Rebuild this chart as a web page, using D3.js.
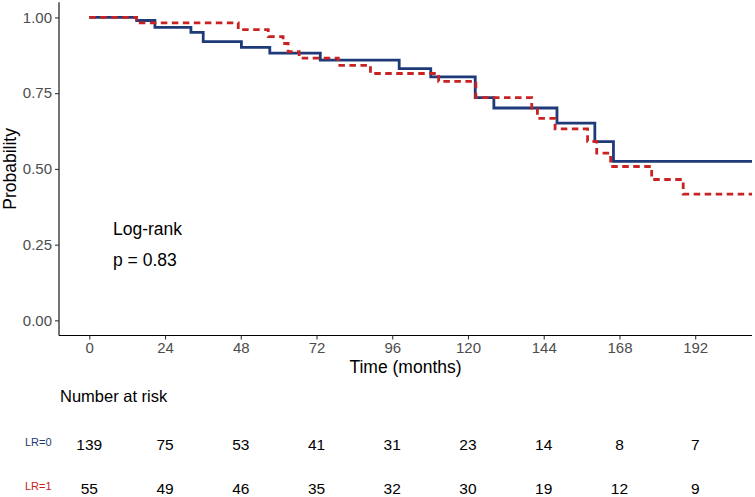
<!DOCTYPE html>
<html>
<head>
<meta charset="utf-8">
<script src="https://cdn.jsdelivr.net/npm/d3@7"></script>
<style>
  html, body { margin: 0; padding: 0; background: #fff; }
  svg { display: block; font-family: "Liberation Sans", Arial, Helvetica, sans-serif; }
</style>
</head>
<body>
<svg id="chart" width="755" height="497"></svg>
<script>
// ---- data ----
const groups = ["LR=0", "LR=1"];
const timesLR0 = [0, 15, 20.8, 32.2, 36.1, 48.2, 57.2, 73.2, 98.2, 108.2, 122.3, 128.2, 148.2, 160.2, 166.1, 210];
const survLR0  = [1, 0.990, 0.967, 0.951, 0.920, 0.901, 0.882, 0.859, 0.831, 0.804, 0.735, 0.701, 0.651, 0.590, 0.525, 0.525];
const timesLR1 = [0, 15, 47.2, 56.7, 61.4, 63, 66.5, 78.9, 89.1, 110.7, 122.5, 140.2, 142, 147.6, 157.9, 160.8, 165.2, 178.2, 188.2, 210];
const survLR1  = [1, 0.982, 0.960, 0.937, 0.914, 0.887, 0.866, 0.842, 0.815, 0.789, 0.735, 0.701, 0.667, 0.632, 0.591, 0.552, 0.508, 0.465, 0.417, 0.417];
const xTicks = [0, 24, 48, 72, 96, 120, 144, 168, 192];
const yTicks = [0, 0.25, 0.5, 0.75, 1.0];
const riskTimes = [0, 24, 48, 72, 96, 120, 144, 168, 192];
const riskLR0 = [139, 75, 53, 41, 31, 23, 14, 8, 7];
const riskLR1 = [55, 49, 46, 35, 32, 30, 19, 12, 9];
const pText = ["Log-rank", "p = 0.83"];

// ---- styles ----
const colors = { "LR=0": "#1f3a78", "LR=1": "#c92222" };
const svg = d3.select("#chart");
const L = 59, R = 752, T = 2.3, B = 335.5;

const x = d3.scaleLinear().domain([-9.6, 210]).range([L, R]);
const y = d3.scaleLinear().domain([-0.05, 1.05]).range([B, T]);

// curves
const line = d3.line().x(d => x(d[0])).y(d => y(d[1])).curve(d3.curveStepAfter);
const s0 = timesLR0.map((t, i) => [t, survLR0[i]]);
const s1 = timesLR1.map((t, i) => [t, survLR1[i]]);

svg.append("path").attr("d", line(s0)).attr("fill", "none")
  .attr("stroke", colors["LR=0"]).attr("stroke-width", 2.8);
svg.append("path").attr("d", line(s1)).attr("fill", "none")
  .attr("stroke", colors["LR=1"]).attr("stroke-width", 2.8)
  .attr("stroke-dasharray", "6.5,4.5");

// axes
const xAxis = d3.axisBottom(x).tickValues(xTicks).tickSize(4).tickPadding(3);
const gx = svg.append("g").attr("transform", `translate(0,${B})`).call(xAxis);
gx.select(".domain").attr("stroke", "#000").attr("stroke-width", 1.1).attr("d", `M${L},0H${R}`);
gx.selectAll(".tick line").attr("stroke", "#333").attr("stroke-width", 1.1);
gx.selectAll(".tick text").attr("fill", "#4d4d4d").attr("font-size", 15)
  .attr("font-family", "Liberation Sans, Arial, sans-serif");

const yAxis = d3.axisLeft(y).tickValues(yTicks).tickFormat(d3.format(".2f")).tickSize(4).tickPadding(3);
const gy = svg.append("g").attr("transform", `translate(${L},0)`).call(yAxis);
gy.select(".domain").attr("stroke", "#000").attr("stroke-width", 1.1).attr("d", `M0,${T}V${B}`);
gy.selectAll(".tick line").attr("stroke", "#333").attr("stroke-width", 1.1);
gy.selectAll(".tick text").attr("fill", "#4d4d4d").attr("font-size", 15)
  .attr("font-family", "Liberation Sans, Arial, sans-serif");

// axis titles
svg.append("text").attr("x", (L + R) / 2).attr("y", 373).attr("text-anchor", "middle")
  .attr("font-size", 17.5).attr("fill", "#000").text("Time (months)");
svg.append("text").attr("transform", `translate(16,${(T + B) / 2}) rotate(-90)`)
  .attr("text-anchor", "middle").attr("font-size", 17.5).attr("fill", "#000").text("Probability");

// p-value annotation
svg.append("text").attr("x", 113).attr("y", 235).attr("font-size", 17.5).attr("fill", "#000").text(pText[0]);
svg.append("text").attr("x", 113).attr("y", 265.5).attr("font-size", 17.5).attr("fill", "#000").text(pText[1]);

// risk table
svg.append("text").attr("x", 60).attr("y", 402).attr("font-size", 16.5).attr("fill", "#000").text("Number at risk");
const rows = [{ g: groups[0], vals: riskLR0, yb: 450 }, { g: groups[1], vals: riskLR1, yb: 494 }];
rows.forEach(r => {
  svg.append("text").attr("x", 25).attr("y", r.yb - 4).attr("font-size", 11)
    .attr("fill", colors[r.g]).text(r.g);
  svg.selectAll(null).data(r.vals).enter().append("text")
    .attr("x", (d, i) => x(riskTimes[i])).attr("y", r.yb)
    .attr("text-anchor", "middle").attr("font-size", 15.5).attr("fill", "#000")
    .text(d => d);
});
</script>
</body>
</html>
